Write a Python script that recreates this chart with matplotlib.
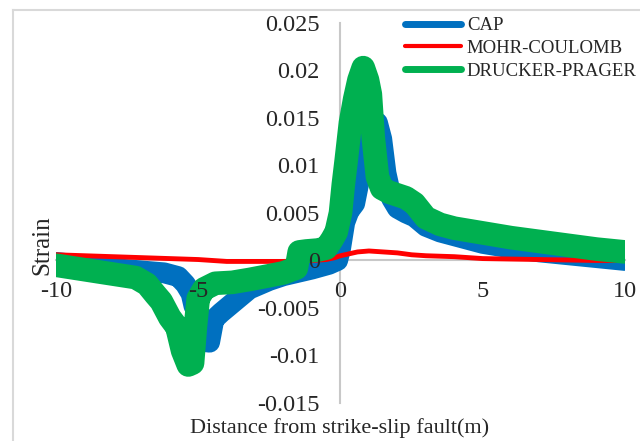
import matplotlib
matplotlib.use("Agg")
import matplotlib.pyplot as plt
from matplotlib.lines import Line2D

plt.rcParams["font.family"] = ["Liberation Serif", "DejaVu Serif"]
plt.rcParams["axes.unicode_minus"] = False

# Strain along a profile across the fault
cap_x = [-10, -8.5, -7, -6.2, -5.7, -5.45, -5.25, -5.15, -5.0, -4.9, -4.6, -4.45,
         -4.2, -3.8, -3.2, -2.5, -2.0, -1.0, -0.4, -0.1, 0.0, 0.15, 0.3, 0.5, 0.7,
         0.9, 1.1, 1.3, 1.45, 1.6, 1.8, 2.0, 2.3, 2.6, 3.0, 3.5, 4.0, 5.0, 6.0, 7.0,
         8.0, 9.0, 10.0]
cap_y = [-0.0002, -0.0007, -0.0011, -0.0013, -0.0017, -0.0025, -0.0035, -0.0048,
         -0.0052, -0.0085, -0.0086, -0.0062, -0.0055, -0.0045, -0.0030, -0.0021,
         -0.0016, -0.0009, -0.0004, 0.0, 0.0012, 0.0040, 0.0052, 0.0060, 0.0090,
         0.0120, 0.0140, 0.0145, 0.0128, 0.0092, 0.0065, 0.0055, 0.0050, 0.0046,
         0.0036, 0.0030, 0.0026, 0.0018, 0.0013, 0.0009, 0.0006, 0.0003, 0.0]

mc_x = [-10, -8, -6, -5, -4, -3, -2, -1, -0.5, -0.2, 0.0, 0.3, 0.6, 1.0, 1.5, 2.0,
        2.5, 3.0, 4.0, 5.0, 6.0, 7.0, 8.0, 9.0, 10.0]
mc_y = [0.0006, 0.0004, 0.0002, 0.0001, -0.0001, -0.0001, -0.0001, 0.0, 0.0001,
        0.0003, 0.0005, 0.0007, 0.0009, 0.0010, 0.0009, 0.0008, 0.0006, 0.0005,
        0.0004, 0.0002, 0.00015, 0.0001, 0.00005, 0.0, 0.0]

dp_x = [-10, -8.5, -7.2, -6.8, -6.5, -6.3, -6.0, -5.75, -5.55, -5.35, -5.2, -5.1,
        -5.0, -4.8, -4.4, -3.8, -3.2, -2.5, -2.0, -1.55, -1.45, -1.2, -0.8, -0.5,
        -0.3, -0.15, 0.0, 0.1, 0.2, 0.35, 0.5, 0.65, 0.8, 0.95, 1.05, 1.15, 1.3,
        1.45, 1.7, 2.0, 2.3, 2.6, 3.0, 3.5, 4.0, 5.0, 6.0, 7.0, 8.0, 9.0, 10.0]
dp_y = [-0.0005, -0.0012, -0.0018, -0.0025, -0.0036, -0.0043, -0.0060, -0.0070,
        -0.0095, -0.0110, -0.0108, -0.0070, -0.0040, -0.0030, -0.0024, -0.0023,
        -0.0020, -0.0016, -0.0013, -0.0008, 0.0009, 0.0010, 0.0011, 0.0013,
        0.0022, 0.0030, 0.0050, 0.0080, 0.0105, 0.0145, 0.0170, 0.0190, 0.0203,
        0.0190, 0.0175, 0.0130, 0.0088, 0.0076, 0.0072, 0.0069, 0.0066, 0.0060,
        0.0045, 0.0038, 0.0034, 0.0029, 0.0024, 0.0020, 0.0016, 0.0012, 0.0009]

series_names = ["CAP", "MOHR-COULOMB", "DRUCKER-PRAGER"]
x_ticks = [-10, -5, 0, 5, 10]
x_tick_labels = ["-10", "-5", "0", "5", "10"]
y_ticks = [-0.015, -0.01, -0.005, 0, 0.005, 0.01, 0.015, 0.02, 0.025]
y_tick_labels = ["-0.015", "-0.01", "-0.005", "0", "0.005", "0.01", "0.015",
                 "0.02", "0.025"]

blue, red, green = "#0070C0", "#FF0000", "#00B050"
txt = "#262626"
axis_grey = "#C8C8C8"

fig = plt.figure(figsize=(6.4, 4.41), dpi=100)
ax = fig.add_axes([0.0875, 0.0862, 0.889, 0.8617])
ax.set_axisbelow(False)  # tick labels sit on top of the thick lines

style = dict(solid_capstyle="round", solid_joinstyle="round", zorder=2)
ax.plot(cap_x, cap_y, color=blue, lw=15, **style)
ax.plot(mc_x, mc_y, color=red, lw=3.5, **style)
ax.plot(dp_x, dp_y, color=green, lw=17, **style)

ax.set_xlim(-10, 10)
ax.set_ylim(-0.015, 0.025)

# excel-style axes crossing at the origin
ax.spines["left"].set_position(("data", 0))
ax.spines["bottom"].set_position(("data", 0))
for side in ["top", "right"]:
    ax.spines[side].set_visible(False)
for side in ["left", "bottom"]:
    ax.spines[side].set_color(axis_grey)
    ax.spines[side].set_linewidth(1.5)
    ax.spines[side].set_zorder(0.5)

ax.set_xticks(x_ticks, labels=x_tick_labels)
ax.set_yticks(y_ticks, labels=y_tick_labels)
ax.tick_params(axis="x", length=0, pad=15, labelsize=17.5, labelcolor=txt)
ax.tick_params(axis="y", length=0, pad=15, labelsize=17.5, labelcolor=txt)

fig.text(0.53, 0.03, "Distance from strike-slip fault(m)", ha="center",
         va="center", fontsize=16, color=txt)
fig.text(0.066, 0.445, "Strain", ha="center", va="center", rotation=90,
         fontsize=18, color=txt)

handles = [Line2D([], [], color=blue, lw=5, solid_capstyle="round"),
           Line2D([], [], color=red, lw=3, solid_capstyle="round"),
           Line2D([], [], color=green, lw=5, solid_capstyle="round")]
fig.legend(handles, series_names, loc="upper left",
           bbox_to_anchor=(405 / 640, 1 - 17 / 441), frameon=False,
           fontsize=13.5, handlelength=3.0, handletextpad=0.3,
           labelspacing=0.3, borderpad=0, borderaxespad=0,
           labelcolor=txt)

# chart-area border (only left and top edges are inside the crop)
fig.add_artist(Line2D([13 / 640, 13 / 640], [0, 1 - 10 / 441],
                      color="#D9D9D9", lw=1.5))
fig.add_artist(Line2D([13 / 640, 1], [1 - 10 / 441, 1 - 10 / 441],
                      color="#D9D9D9", lw=1.5))

fig.savefig("out.png", dpi=100)
